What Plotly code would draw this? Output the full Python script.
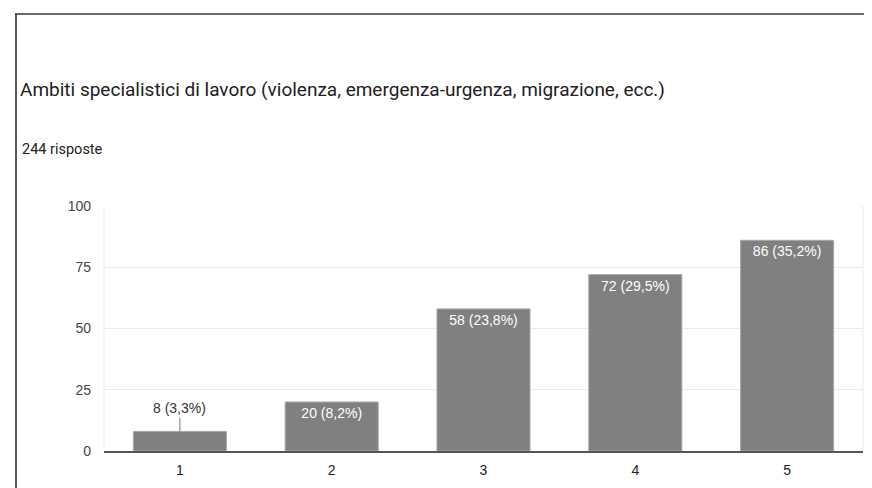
import plotly.graph_objects as go

# Google Forms summary: linear scale question, 244 responses
categories = ["1", "2", "3", "4", "5"]
counts = [8, 20, 58, 72, 86]
pct_labels = ["3,3%", "8,2%", "23,8%", "29,5%", "35,2%"]
y_ticks = [0, 25, 50, 75, 100]

TITLE = "Ambiti specialistici di lavoro (violenza, emergenza-urgenza, migrazione, ecc.)"
SUBTITLE = "244 risposte"

BAR = "#808080"
GRID = "#ebebeb"
# the page body adds an 8px margin, so the figure is drawn 8px smaller
OFF = 8
W, H = 872 - OFF, 488 - OFF
L, R, T, B = 104 - OFF, 9 - OFF + OFF, 206 - OFF, 37
plot_w, plot_h = W - L - R, H - T - B


def px_x(x):
    return (x - OFF - L) / plot_w


def px_y(y):
    return (H - B - (y - OFF)) / plot_h


labels = [f"{c} ({p})" for c, p in zip(counts, pct_labels)]
# the smallest bar gets its label outside, via a leader line
texts = [""] + labels[1:]

fig = go.Figure()
fig.add_bar(
    x=categories,
    y=counts,
    text=texts,
    textposition="inside",
    insidetextanchor="end",
    textangle=0,
    textfont={"family": "Arial", "size": 14, "color": "#ffffff"},
    marker={"color": BAR, "line": {"color": "#a8a8a8", "width": 1}},
    hoverinfo="skip",
)
fig.add_annotation(
    x=0, y=counts[0], text=labels[0],
    showarrow=True, arrowhead=0, arrowwidth=1, arrowcolor="#777777",
    ax=0, ay=-23,
    font={"family": "Arial", "size": 14, "color": "#333333"},
)
fig.add_annotation(
    xref="paper", yref="paper", x=px_x(20), y=px_y(149),
    xanchor="left", yanchor="middle", showarrow=False,
    text=SUBTITLE, font={"family": "Roboto", "size": 14.5, "color": "#212121"},
)

# card border
fig.add_shape(type="line", xref="paper", yref="paper",
              x0=px_x(15), x1=px_x(880), y0=px_y(14), y1=px_y(14),
              line={"color": "#6b6b6b", "width": 2})
fig.add_shape(type="line", xref="paper", yref="paper",
              x0=px_x(16), x1=px_x(16), y0=px_y(14), y1=px_y(490),
              line={"color": "#222222", "width": 1.5})
fig.add_shape(type="line", xref="paper", yref="paper",
              x0=px_x(866), x1=px_x(866), y0=px_y(50), y1=px_y(490),
              line={"color": "#eeeeee", "width": 1})

fig.update_layout(
    width=W, height=H,
    margin={"l": L, "r": R, "t": T, "b": B},
    paper_bgcolor="#ffffff", plot_bgcolor="#ffffff",
    bargap=0.387,
    showlegend=False,
    font={"family": "Arial", "color": "#444444", "size": 14},
    title={
        "text": TITLE, "xref": "container", "yref": "container",
        "x": (20 - OFF) / W, "y": 1 - (89 - OFF) / H,
        "xanchor": "left", "yanchor": "middle",
        "font": {"family": "Roboto", "size": 19, "color": "#212121"},
    },
)
fig.update_xaxes(
    type="category",
    showgrid=False, showline=True, linecolor="#555555", linewidth=2,
    ticks="", tickfont={"family": "Arial", "size": 14, "color": "#222222"},
    ticklabelstandoff=5,
)
fig.update_yaxes(
    range=[0, 100], tickvals=y_ticks, gridcolor=GRID, gridwidth=1,
    zeroline=False, showline=False, ticks="",
    tickfont={"family": "Arial", "size": 14, "color": "#444444"},
    ticklabelstandoff=12,
)
# light frame edges of the plot area
fig.add_shape(type="line", xref="paper", yref="paper",
              x0=1, x1=1, y0=0, y1=1, line={"color": GRID, "width": 1})
fig.add_shape(type="line", xref="paper", yref="paper",
              x0=0, x1=0, y0=0, y1=1, line={"color": GRID, "width": 1})

fig.write_html("out.html")
